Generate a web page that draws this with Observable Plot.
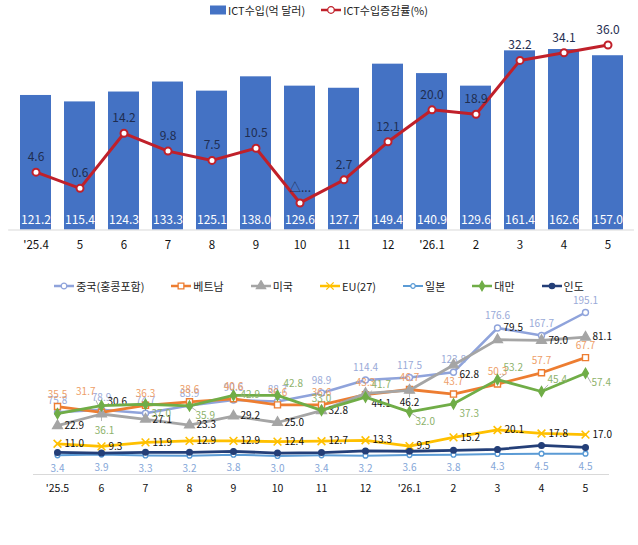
<!DOCTYPE html>
<html><head><meta charset="utf-8">
<script src="https://cdn.jsdelivr.net/npm/d3@7"></script>
<script src="https://cdn.jsdelivr.net/npm/@observablehq/plot@0.6"></script>
<style>
body{margin:0;background:#fff;font-family:"Noto Sans CJK KR","Noto Sans",sans-serif;}
#wrap{position:relative;width:638px;height:545px;overflow:hidden;background:#fff;}
.layer{position:absolute;left:0;}
.legend{position:absolute;left:0;width:638px;display:flex;justify-content:center;align-items:center;font-size:11px;color:#222;white-space:nowrap;}
.legend .item{display:flex;align-items:center;}
.legend svg{display:block;margin-right:2px;}
</style></head><body><div id="wrap"></div>
<script>
// ---------- top chart data ----------
const topMonths = ["'25.4","5","6","7","8","9","10","11","12","'26.1","2","3","4","5"];
const ictImport = [121.2,115.4,124.3,133.3,125.1,138.0,129.6,127.7,149.4,140.9,129.6,161.4,162.6,157.0];
const ictGrowth = [4.6,0.6,14.2,9.8,7.5,10.5,-3.0,2.7,12.1,20.0,18.9,32.2,34.1,36.0];
const topNames = ["ICT수입(억 달러)","ICT수입증감률(%)"];

// ---------- bottom chart data ----------
const botMonths = ["'25.5","6","7","8","9","10","11","12","'26.1","2","3","4","5"];
const seriesNames = ["중국(홍콩포함)","베트남","미국","EU(27)","일본","대만","인도"];
const china   = [75.8,78.9,74.7,83.9,90.6,88.7,98.9,114.4,117.5,123.8,176.6,167.7,195.1];
const vietnam = [35.5,31.7,36.3,38.6,40.6,36.6,36.6,43.3,46.7,43.7,50.3,57.7,67.7];
const usa     = [22.9,30.6,27.1,23.3,29.2,25.0,32.8,44.1,46.2,62.8,79.5,79.0,81.1];
const eu27    = [11.0,9.3,11.9,12.9,12.9,12.4,12.7,13.3,9.5,15.2,20.1,17.8,17.0];
const japan   = [3.4,3.9,3.3,3.2,3.8,3.0,3.4,3.2,3.6,3.8,4.3,4.5,4.5];
const taiwan  = [30.8,36.1,37.0,35.9,42.9,42.8,33.0,41.7,32.0,37.3,53.2,45.4,57.4];
const india   = [5.3,4.9,5.4,5.4,6.0,4.9,5.2,6.3,6.1,6.7,7.3,9.9,8.6];

// ---------- styling ----------
const FONT = '"Noto Sans CJK KR","Noto Sans",sans-serif';
const barColor = "#4472C4", lineRed = "#C0202A";
const sty = {
  china:   {color:"#8FA3DB", label:"#9AAAD8", symbol:"circle",   fill:"white", r:3,   sw:2.5},
  vietnam: {color:"#ED7D31", label:"#EE9E68", symbol:"square",   fill:"white", r:3.4, sw:2.8},
  usa:     {color:"#A5A5A5", label:"#111111", symbol:"triangle", fill:"#A5A5A5", r:3.6, sw:2.8},
  eu27:    {color:"#FFC000", label:"#111111", symbol:"times",    fill:"none",  r:3.6, sw:2.8},
  japan:   {color:"#5B9BD5", label:"#84A6D8", symbol:"circle",   fill:"white", r:2.4, sw:2},
  taiwan:  {color:"#70AD47", label:"#8DB26B", symbol:"diamond",  fill:"#70AD47", r:3, sw:2.8},
  india:   {color:"#243F78", label:"#243F78", symbol:"circle",   fill:"#243F78", r:2.8, sw:2.8}
};
// label placement codes per point (style config, kept apart from the data)
const placeCfg = {
  t:{dx:0,dy:-12,textAnchor:"middle"},
  b:{dx:0,dy:13,textAnchor:"middle"},
  bb:{dx:3,dy:25,textAnchor:"middle"},
  r:{dx:7,dy:0,textAnchor:"start"},
  ra:{dx:6,dy:-12,textAnchor:"start"},
  rb:{dx:6,dy:10,textAnchor:"start"},
  la:{dx:-6,dy:-21,textAnchor:"end"}
};
const pos = {
  china:   Array(13).fill("t"),
  vietnam: ["t","la","t","t","t","t","t","t","t","t","t","t","t"],
  usa:     ["r","ra","r","r","r","r","r","rb","b","rb","ra","r","r"],
  eu27:    Array(13).fill("r"),
  japan:   Array(13).fill("b"),
  taiwan:  ["n","bb","rb","rb","r","ra","t","ra","rb","rb","ra","ra","rb"],
  india:   Array(13).fill("n")
};
// thin leader lines: [point index, angle (deg), length (px)]
const leaders = {
  vietnam: [[1,-25,13]],
  usa:     [[8,180,7]],
  taiwan:  [[1,180,15],[3,125,8],[7,45,9],[8,125,11],[10,55,9],[11,45,9],[12,150,11]]
};

const wrap = d3.select("#wrap");

// ================= TOP CHART =================
const tIdx = d3.range(topMonths.length);
const topCommon = {
  width:638, height:262, marginTop:7.5, marginBottom:32.5, marginLeft:8.15, marginRight:4.05,
  style:{fontFamily:FONT, background:"transparent", overflow:"visible"}
};
const topX = {type:"band", domain:tIdx, paddingInner:0.295, paddingOuter:0.1475, tickFormat:i=>topMonths[i], label:null};

const topBars = Plot.plot({
  ...topCommon,
  x: topX,
  y: {domain:[0,200], axis:null},
  marks:[
    Plot.barY(tIdx, {x:i=>i, y:i=>ictImport[i], fill:barColor}),
    Plot.ruleY([0], {stroke:"#d9d9d9", strokeWidth:1}),
    Plot.text(tIdx, {x:i=>i, y:0, text:i=>ictImport[i].toFixed(1), fill:"white", dy:-10, fontSize:12}),
    Plot.axisX({tickSize:0, tickPadding:11, fontSize:11.5, fill:"#111", label:null, tickFormat:i=>topMonths[i]})
  ]
});
const topLine = Plot.plot({
  ...topCommon,
  x: {...topX, axis:null},
  y: {domain:[-9.68,45.14], axis:null},
  marks:[
    Plot.line(tIdx, {x:i=>i, y:i=>ictGrowth[i], stroke:lineRed, strokeWidth:3}),
    Plot.dot(tIdx, {x:i=>i, y:i=>ictGrowth[i], r:3.5, fill:"white", stroke:lineRed, strokeWidth:2}),
    Plot.text(tIdx, {x:i=>i, y:i=>ictGrowth[i], text:i=>ictGrowth[i] < 0 ? "△..." : ictGrowth[i].toFixed(1), dy:-15, fill:"#1F2D50", fontSize:12})
  ]
});
for (const el of [topBars, topLine]) {
  const n = wrap.append("div").attr("class","layer").style("top","0px").node();
  n.appendChild(el);
}

// ================= BOTTOM CHART =================
const bIdx = d3.range(botMonths.length);
const botCommon = {
  width:638, height:230, marginTop:20, marginBottom:26, marginLeft:55, marginRight:51,
  style:{fontFamily:FONT, background:"transparent", overflow:"visible"}
};
const botX = {type:"point", domain:bIdx, padding:0, label:null};
const lineShape = {draw(ctx, l) { ctx.moveTo(0, -3); ctx.lineTo(0, -l); }};

function seriesMarks(key, vals) {
  const s = sty[key];
  const marks = [];
  if (leaders[key]) {
    marks.push(Plot.vector(leaders[key], {x:d=>d[0], y:d=>vals[d[0]], rotate:d=>d[1], length:d=>d[2],
      anchor:"start", shape:lineShape, stroke:"#A6A6A6", strokeWidth:0.8}));
  }
  marks.push(
    Plot.line(bIdx, {x:i=>i, y:i=>vals[i], stroke:s.color, strokeWidth:s.sw}),
    Plot.dot(bIdx, {x:i=>i, y:i=>vals[i], symbol:s.symbol, r:s.r, fill:s.fill,
      stroke:s.color, strokeWidth: s.symbol === "times" ? 1.6 : 1.4})
  );
  for (const k of Object.keys(placeCfg)) {
    const sel = bIdx.filter(i => pos[key][i] === k);
    if (!sel.length) continue;
    marks.push(Plot.text(sel, {x:i=>i, y:i=>vals[i], text:i=>vals[i].toFixed(1), fill:s.label, fontSize:10, ...placeCfg[k]}));
  }
  return marks;
}

const botChina = Plot.plot({
  ...botCommon,
  x: {...botX, axis:null},
  y: {domain:[1.55,221.4], axis:null},
  length: {type:"identity"},
  marks: seriesMarks("china", china)
});
const botMain = Plot.plot({
  ...botCommon,
  x: botX,
  y: {domain:[-9.21,111.84], axis:null},
  length: {type:"identity"},
  marks:[
    Plot.ruleY([-9.21], {stroke:"#d9d9d9", strokeWidth:1, insetLeft:-22, insetRight:-22}),
    ...seriesMarks("vietnam", vietnam),
    ...seriesMarks("usa", usa),
    ...seriesMarks("eu27", eu27),
    ...seriesMarks("japan", japan),
    ...seriesMarks("taiwan", taiwan),
    ...seriesMarks("india", india),
    Plot.axisX({tickSize:0, tickPadding:10, fontSize:10.5, fill:"#111", label:null, tickFormat:i=>botMonths[i]})
  ]
});
for (const el of [botChina, botMain]) {
  const n = wrap.append("div").attr("class","layer").style("top","270px").node();
  n.appendChild(el);
}

// ================= LEGENDS =================
function markerSvg(parent, kind, s) {
  const svg = parent.append("svg").attr("width", 20).attr("height", 12);
  if (kind === "bar") {
    svg.attr("width",16);
    svg.append("rect").attr("x",0).attr("y",1.5).attr("width",16).attr("height",9).attr("fill",barColor);
    return;
  }
  svg.append("line").attr("x1",0).attr("x2",20).attr("y1",6).attr("y2",6)
    .attr("stroke", s.color).attr("stroke-width", Math.min(s.sw, 2.5));
  const symMap = {circle:d3.symbolCircle, square:d3.symbolSquare, triangle:d3.symbolTriangle, times:d3.symbolTimes, diamond:d3.symbolDiamond};
  svg.append("path").attr("transform","translate(10,6)")
    .attr("d", d3.symbol(symMap[s.symbol], Math.PI * s.r * s.r * 0.9)())
    .attr("fill", s.fill).attr("stroke", s.color).attr("stroke-width", 1.3);
}
// top legend
const tl = wrap.append("div").attr("class","legend").style("top","1px").style("height","18px").style("gap","16px");
{
  const a = tl.append("div").attr("class","item");
  markerSvg(a, "bar");
  a.append("span").text(topNames[0]);
  const b = tl.append("div").attr("class","item");
  markerSvg(b, "line", {color:lineRed, sw:3, symbol:"circle", r:3.5, fill:"white"});
  b.append("span").text(topNames[1]);
}
// bottom legend
const bl = wrap.append("div").attr("class","legend").style("top","278px").style("height","16px").style("gap","27px");
const keys = ["china","vietnam","usa","eu27","japan","taiwan","india"];
keys.forEach((k, j) => {
  const it = bl.append("div").attr("class","item");
  markerSvg(it, "line", sty[k]);
  it.append("span").text(seriesNames[j]);
});
</script></body></html>
